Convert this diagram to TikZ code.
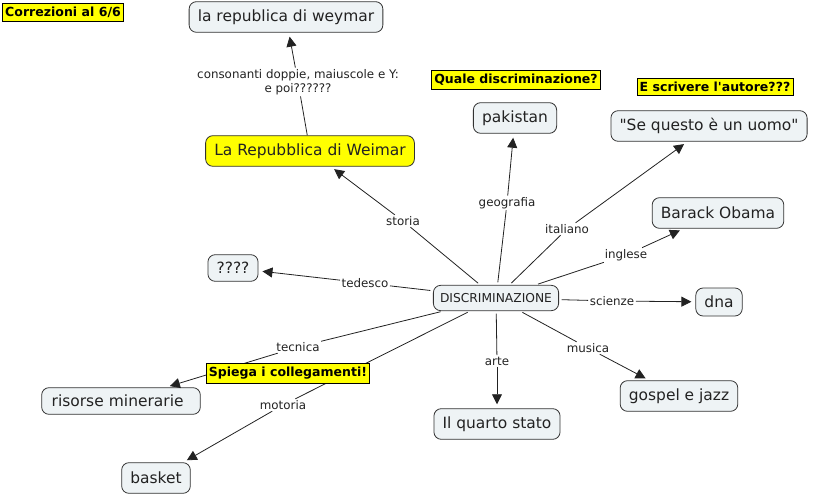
\documentclass[tikz,border=0pt]{standalone}
\usepackage{fontspec}
\newfontfamily\vf{DejaVu Sans}
\usetikzlibrary{arrows.meta}
\definecolor{nfill}{HTML}{EEF3F5}
\definecolor{nline}{HTML}{333333}
\definecolor{ink}{HTML}{222222}
\definecolor{yel}{HTML}{FFFF00}
\tikzset{
  concept/.style={draw=nline, fill=nfill, rounded corners=5.5pt, line width=0.6pt,
    inner xsep=6.5pt, minimum height=23pt, text=ink, font=\vf\fontsize{11.6}{13.5}\selectfont},
  hconcept/.style={concept, fill=yel},
  small/.style={concept, minimum height=19pt, inner xsep=5pt, font=\vf\fontsize{9.2}{11}\selectfont},
  note/.style={draw=black, fill=yel, line width=0.5pt, inner xsep=2pt, inner ysep=2.8pt,
    font=\vf\bfseries\fontsize{9.4}{11}\selectfont},
  lab/.style={fill=white, inner sep=1pt, text=ink, font=\vf\fontsize{8.9}{10.5}\selectfont, align=center},
  conn/.style={draw=ink, line width=0.6pt},
  sconn/.style={conn, shorten <=2pt},
  arr/.style={conn, -{Triangle[length=7.5pt,width=7.5pt]}, shorten >=3pt},
}
\begin{document}
\begin{tikzpicture}[x=0.75pt,y=-0.75pt]
\useasboundingbox (0,0) rectangle (813,495);
% notes (not overlapping)
\node[note] (corr) at (63,12) {Correzioni al 6/6};
\node[note] (quale) at (516,80) {Quale discriminazione?};
\node[note] (autore) at (715,87) {E scrivere l'autore???};
% concepts
\node[concept] (weymar) at (286,17) {la republica di weymar};
\node[hconcept] (weimar) at (310,151) {La Repubblica di Weimar};
\node[concept] (pak) at (515,118) {pakistan};
\node[concept] (levi) at (709,126) {"Se questo è un uomo"};
\node[concept] (obama) at (718,213) {Barack Obama};
\node[concept, minimum height=20pt] (q) at (233,268) {????};
\node[small] (disc) at (496,298) {DISCRIMINAZIONE};
\node[concept, minimum height=21pt] (dna) at (719,302) {dna};
\node[concept, minimum height=20pt, minimum width=119pt, text width=104pt] (ris) at (121,401) {risorse minerarie};
\node[concept] (basket) at (156,478) {basket};
\node[concept] (quarto) at (497,424) {Il quarto stato};
\node[concept] (gospel) at (679,396) {gospel e jazz};
% link labels
\node[lab] (lcons) at (298,82) {consonanti doppie, maiuscole e Y:\\e poi??????};
\node[lab] (lstoria) at (403,221) {storia};
\node[lab] (lgeo) at (507,203) {geografia};
\node[lab] (lita) at (567,229) {italiano};
\node[lab] (ling) at (626,255) {inglese};
\node[lab] (lted) at (365,283) {tedesco};
\node[lab] (lsci) at (612,301) {scienze};
\node[lab] (ltec) at (298,347) {tecnica};
\node[lab] (lmot) at (283,405) {motoria};
\node[lab] (larte) at (497,361) {arte};
\node[lab] (lmus) at (588,348) {musica};
% connectors
\draw[conn] (weimar) -- (lcons); \draw[arr] (lcons) -- (weymar);
\draw[sconn] (disc) -- (lstoria); \draw[arr] (lstoria) -- (weimar);
\draw[sconn] (disc) -- (lgeo); \draw[arr] (lgeo) -- (pak);
\draw[sconn] (disc) -- (lita); \draw[arr] (lita) -- (levi);
\draw[sconn] (disc) -- (ling); \draw[arr] (ling) -- (obama);
\draw[sconn] (disc) -- (lted); \draw[arr] (lted) -- (q);
\draw[sconn] (disc) -- (lsci); \draw[arr] (lsci) -- (dna);
\draw[sconn] (disc) -- (ltec); \draw[arr] (ltec) -- (ris);
\draw[sconn] (disc) -- (lmot); \draw[arr] (lmot) -- (basket);
\draw[sconn] (disc) -- (larte); \draw[arr] (larte) -- (quarto);
\draw[sconn] (disc) -- (lmus); \draw[arr] (lmus) -- (gospel);
% note over connectors
\node[note] (spiega) at (288,373) {Spiega i collegamenti!};
\end{tikzpicture}
\end{document}
